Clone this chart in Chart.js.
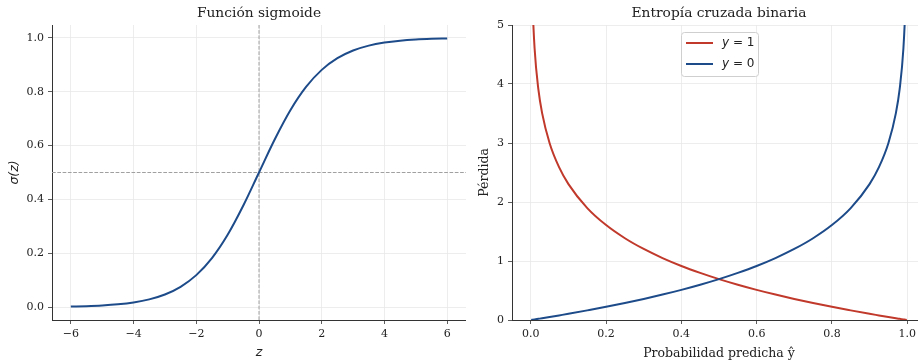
<!DOCTYPE html>
<html>
<head>
<meta charset="utf-8">
<script src="https://cdn.jsdelivr.net/npm/chart.js@4.4.1/dist/chart.umd.min.js"></script>
<style>
html, body { margin: 0; padding: 0; overflow: hidden; background: #fff; width: 918px; height: 364px; }
.panel { position: absolute; top: 0; height: 364px; }
#left { left: 0; width: 466px; }
#right { left: 459px; width: 467px; }
</style>
</head>
<body>
<div class="panel" id="left"><canvas id="sigmoide"></canvas></div>
<div class="panel" id="right"><canvas id="entropia"></canvas></div>
<script>
// --- Función sigmoide ---
const zValues = [-6, -5.5, -5, -4.5, -4, -3.5, -3, -2.5, -2, -1.5, -1, -0.5, 0,
                 0.5, 1, 1.5, 2, 2.5, 3, 3.5, 4, 4.5, 5, 5.5, 6];
const sigmaValues = [0.0025, 0.0041, 0.0067, 0.0110, 0.0180, 0.0293, 0.0474, 0.0759, 0.1192, 0.1824, 0.2689, 0.3775, 0.5,
                     0.6225, 0.7311, 0.8176, 0.8808, 0.9241, 0.9526, 0.9707, 0.9820, 0.9890, 0.9933, 0.9959, 0.9975];
const zTicks = [-6, -4, -2, 0, 2, 4, 6];
const sigmaTicks = [0, 0.2, 0.4, 0.6, 0.8, 1.0];
const zRange = [-6.6, 6.6];
const sigmaRange = [-0.0473, 1.0473];
const refZ = 0;
const refSigma = 0.5;

// --- Entropía cruzada binaria ---
const pValues = [0.001, 0.003, 0.005, 0.01, 0.02, 0.03, 0.05, 0.075, 0.1, 0.15, 0.2, 0.25, 0.3, 0.35, 0.4, 0.45, 0.5,
                 0.55, 0.6, 0.65, 0.7, 0.75, 0.8, 0.85, 0.9, 0.925, 0.95, 0.97, 0.98, 0.99, 0.995, 0.997, 0.999];
const lossY1 = [6.908, 5.809, 5.298, 4.605, 3.912, 3.507, 2.996, 2.590, 2.303, 1.897, 1.609, 1.386, 1.204, 1.050, 0.916, 0.799, 0.693,
                0.598, 0.511, 0.431, 0.357, 0.288, 0.223, 0.163, 0.105, 0.078, 0.051, 0.030, 0.020, 0.010, 0.005, 0.003, 0.001];
const lossY0 = [0.001, 0.003, 0.005, 0.010, 0.020, 0.030, 0.051, 0.078, 0.105, 0.163, 0.223, 0.288, 0.357, 0.431, 0.511, 0.598, 0.693,
                0.799, 0.916, 1.050, 1.204, 1.386, 1.609, 1.897, 2.303, 2.590, 2.996, 3.507, 3.912, 4.605, 5.298, 5.809, 6.908];
const pTicks = [0, 0.2, 0.4, 0.6, 0.8, 1.0];
const lossTicks = [0, 1, 2, 3, 4, 5];
const pRange = [-0.05, 1.05];
const lossRange = [0, 5];
const seriesLabels = ['1', '0'];

const BLUE = '#1d4b8a';
const RED = '#c0392b';
const TEXT = '#222';
const serif = 'DejaVu Serif';

const toPoints = (xs, ys) => xs.map((x, i) => ({ x: x, y: ys[i] }));
const minus = v => (v < 0 ? '\u2212' : '') + Math.abs(v);

function scaleOpts(range, ticks, fmt, title, titleFont, titlePad, size) {
    return {
        type: 'linear',
        min: range[0],
        max: range[1],
        afterBuildTicks: s => { s.ticks = ticks.map(v => ({ value: v })); },
        afterFit: s => { if (s.isHorizontal()) s.height = size; else s.width = size; },
        ticks: {
            callback: fmt,
            autoSkip: false,
            maxRotation: 0,
            padding: 4,
            color: TEXT,
            font: { family: serif, size: 11 },
        },
        grid: { color: '#e9e9e9', lineWidth: 0.8, tickColor: '#333', tickLength: 4 },
        border: { color: '#333', width: 1 },
        title: { display: true, text: title, color: TEXT, font: titleFont, padding: titlePad },
    };
}

// title centred over the plot area, like an axes title
const panelTitle = {
    id: 'panelTitle',
    afterDraw(chart, args, opts) {
        const { ctx, chartArea } = chart;
        ctx.save();
        ctx.font = '13.8px "DejaVu Serif"';
        ctx.fillStyle = TEXT;
        ctx.textAlign = 'center';
        ctx.textBaseline = 'middle';
        ctx.fillText(opts.text, (chartArea.left + chartArea.right) / 2, 13);
        ctx.restore();
    }
};

// legend box with an italic y, upper centre of the plot
const mathLegend = {
    id: 'mathLegend',
    afterDraw(chart) {
        const { ctx, chartArea } = chart;
        const w = 77, h = 44;
        const x0 = Math.round((chartArea.left + chartArea.right) / 2 - w / 2);
        const y0 = chartArea.top + 7;
        ctx.save();
        ctx.fillStyle = 'rgba(255,255,255,0.85)';
        ctx.strokeStyle = '#cfcfcf';
        ctx.lineWidth = 1;
        ctx.beginPath();
        ctx.roundRect(x0 + 0.5, y0 + 0.5, w, h, 3);
        ctx.fill();
        ctx.stroke();
        chart.data.datasets.forEach((ds, i) => {
            const yy = y0 + 11 + i * 21;
            ctx.strokeStyle = ds.borderColor;
            ctx.lineWidth = 2;
            ctx.beginPath();
            ctx.moveTo(x0 + 5, yy);
            ctx.lineTo(x0 + 32, yy);
            ctx.stroke();
            ctx.fillStyle = TEXT;
            ctx.textBaseline = 'middle';
            ctx.textAlign = 'left';
            ctx.font = 'italic 12px "DejaVu Sans"';
            const tx = x0 + 41;
            ctx.fillText('y', tx, yy);
            const wy = ctx.measureText('y').width;
            ctx.font = '12px "DejaVu Sans"';
            ctx.fillText(' = ' + ds.label, tx + wy, yy);
        });
        ctx.restore();
    }
};

const common = {
    animation: false,
    responsive: true,
    maintainAspectRatio: false,
    layout: { padding: { top: 25, left: 0, right: 0, bottom: 0 } },
    elements: { point: { radius: 0 } },
};

new Chart(document.getElementById('sigmoide'), {
    type: 'line',
    data: {
        datasets: [{
            label: 'sigma',
            data: toPoints(zValues, sigmaValues),
            borderColor: BLUE,
            borderWidth: 2,
            cubicInterpolationMode: 'monotone',
        }, {
            data: toPoints([refZ, refZ], sigmaRange),
            borderColor: '#a0a0a0',
            borderWidth: 1,
            borderDash: [3.7, 1.6],
        }, {
            data: toPoints(zRange, [refSigma, refSigma]),
            borderColor: '#a0a0a0',
            borderWidth: 1,
            borderDash: [3.7, 1.6],
        }],
    },
    options: {
        ...common,
        plugins: { legend: { display: false }, tooltip: { enabled: false }, panelTitle: { text: 'Función sigmoide' } },
        scales: {
            x: scaleOpts(zRange, zTicks, minus, 'z',
                { family: 'DejaVu Sans', style: 'italic', size: 12.5 }, { top: 0, bottom: 4 }, 44),
            y: scaleOpts(sigmaRange, sigmaTicks, v => v.toFixed(1), 'σ(z)',
                { family: 'DejaVu Sans', style: 'italic', size: 12.5 }, { top: 7, bottom: 0 }, 52),
        },
    },
    plugins: [panelTitle],
});

new Chart(document.getElementById('entropia'), {
    type: 'line',
    data: {
        datasets: [{
            label: seriesLabels[0],
            data: toPoints(pValues, lossY1),
            borderColor: RED,
            borderWidth: 2,
            cubicInterpolationMode: 'monotone',
            order: 1,
        }, {
            label: seriesLabels[1],
            data: toPoints(pValues, lossY0),
            borderColor: BLUE,
            borderWidth: 2,
            cubicInterpolationMode: 'monotone',
            order: 0,
        }],
    },
    options: {
        ...common,
        plugins: { legend: { display: false }, tooltip: { enabled: false }, panelTitle: { text: 'Entropía cruzada binaria' } },
        scales: {
            x: scaleOpts(pRange, pTicks, v => v.toFixed(1), 'Probabilidad predicha ŷ',
                { family: serif, size: 12.5 }, { top: 0, bottom: 3 }, 44),
            y: scaleOpts(lossRange, lossTicks, v => String(v), 'Pérdida',
                { family: serif, size: 12.5 }, { top: 18, bottom: 0 }, 53),
        },
    },
    plugins: [panelTitle, mathLegend],
});
</script>
</body>
</html>
